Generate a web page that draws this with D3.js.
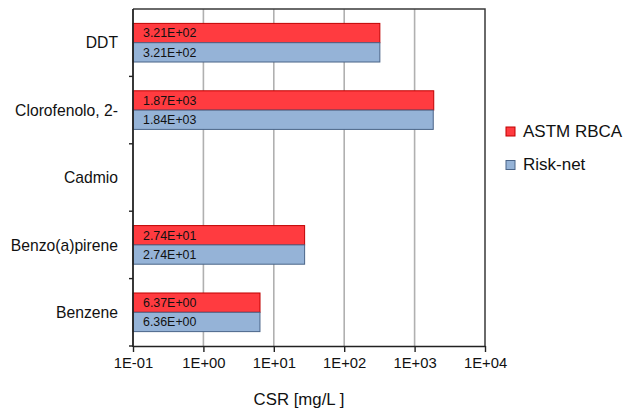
<!DOCTYPE html>
<html>
<head>
<meta charset="utf-8">
<script src="https://cdn.jsdelivr.net/npm/d3@7"></script>
<style>
  html, body { margin: 0; padding: 0; background: #fff; }
  svg { display: block; font-family: "Liberation Sans", Arial, sans-serif; }
</style>
</head>
<body>
<svg id="chart" width="628" height="411"></svg>
<script>
// Substances, listed top to bottom
const categories = ["DDT", "Clorofenolo, 2-", "Cadmio", "Benzo(a)pirene", "Benzene"];
// CSR values in mg/L (null = no value)
const astmValues = [321, 1870, null, 27.4, 6.37];
const risknetValues = [321, 1840, null, 27.4, 6.36];
const seriesNames = ["ASTM RBCA", "Risk-net"];
const tickValues = [0.1, 1, 10, 100, 1000, 10000];
const tickLabels = ["1E-01", "1E+00", "1E+01", "1E+02", "1E+03", "1E+04"];
const axisTitle = "CSR [mg/L ]";

const fills = ["#ff3b40", "#95b3d7"];
const strokes = ["#c00000", "#4a6488"];

const svg = d3.select("#chart");
const plotL = 133, plotR = 485, plotT = 9, plotB = 346;

const x = d3.scaleLog().domain([0.1, 10000]).range([plotL, plotR]);
const y = d3.scaleBand().domain(categories).range([plotT, plotB]).paddingInner(0).paddingOuter(0);
const groupH = y.bandwidth() * 0.573;
const sub = d3.scaleBand().domain(seriesNames).range([0, groupH]);

function fmtExp(v) {
  const [m, e] = v.toExponential(2).split("e");
  const n = Math.abs(+e);
  return m + "E" + (+e < 0 ? "-" : "+") + (n < 10 ? "0" : "") + n;
}

// vertical grid lines
svg.append("g").selectAll("line")
  .data(tickValues.slice(1, -1))
  .join("line")
  .attr("x1", d => x(d)).attr("x2", d => x(d))
  .attr("y1", plotT).attr("y2", plotB)
  .attr("stroke", "#b0b0b0").attr("stroke-width", 1.6);

// frame: top and right edges
svg.append("path")
  .attr("d", `M${plotL},${plotT}H${plotR}V${plotB}`)
  .attr("fill", "none").attr("stroke", "#3a3a3a").attr("stroke-width", 1.5);

// bars
const rows = categories.map((c, i) => ({ c, vals: [astmValues[i], risknetValues[i]] }));
const groups = svg.append("g").selectAll("g")
  .data(rows).join("g")
  .attr("transform", d => `translate(0,${y(d.c) + (y.bandwidth() - groupH) / 2})`);

groups.each(function (row) {
  const g = d3.select(this);
  row.vals.forEach((v, k) => {
    if (v == null) return;
    const s = seriesNames[k];
    g.append("rect")
      .attr("x", x(0.1))
      .attr("y", sub(s))
      .attr("width", x(v) - x(0.1))
      .attr("height", sub.bandwidth())
      .attr("fill", fills[k])
      .attr("stroke", strokes[k])
      .attr("stroke-width", 1);
    g.append("text")
      .attr("x", x(0.1) + 10)
      .attr("y", sub(s) + sub.bandwidth() / 2)
      .attr("dy", "0.36em")
      .attr("font-size", 12.4)
      .attr("fill", "#111")
      .text(fmtExp(v));
  });
});

// x axis
const xAxis = d3.axisBottom(x)
  .tickValues(tickValues)
  .tickFormat((d, i) => tickLabels[i])
  .tickSize(6)
  .tickSizeOuter(0);
const gx = svg.append("g").attr("transform", `translate(0,${plotB})`).call(xAxis);
gx.select(".domain").attr("stroke", "#222").attr("stroke-width", 1.6);
gx.selectAll(".tick line").attr("stroke", "#222").attr("stroke-width", 1.4);
gx.selectAll(".tick text")
  .attr("font-family", "Liberation Sans, Arial, sans-serif")
  .attr("font-size", 14.8).attr("fill", "#111").attr("y", 11).attr("dy", "0.71em");

// y axis: ticks at category boundaries
svg.append("line")
  .attr("x1", plotL).attr("x2", plotL).attr("y1", plotT).attr("y2", plotB + 1)
  .attr("stroke", "#222").attr("stroke-width", 1.8);
svg.append("g").selectAll("line")
  .data(categories)
  .join("line")
  .attr("x1", plotL - 4).attr("x2", plotL)
  .attr("y1", (d, i) => plotT + y.step() * (i + 1))
  .attr("y2", (d, i) => plotT + y.step() * (i + 1))
  .attr("stroke", "#222").attr("stroke-width", 1.4);
svg.append("g").selectAll("text")
  .data(categories).join("text")
  .attr("x", 118)
  .attr("y", d => y(d) + y.bandwidth() / 2)
  .attr("dy", "0.36em")
  .attr("text-anchor", "end")
  .attr("font-size", 15.7)
  .attr("fill", "#111")
  .text(d => d);

// axis title
svg.append("text")
  .attr("x", 299).attr("y", 404.5)
  .attr("text-anchor", "middle")
  .attr("font-size", 16.8)
  .attr("fill", "#111")
  .text(axisTitle);

// legend
const legend = svg.append("g").selectAll("g")
  .data(seriesNames).join("g")
  .attr("transform", (d, i) => `translate(506,${127 + i * 33.5})`);
legend.append("rect")
  .attr("width", 9).attr("height", 9)
  .attr("fill", (d, i) => fills[i])
  .attr("stroke", (d, i) => strokes[i]).attr("stroke-width", 1);
legend.append("text")
  .attr("x", 17).attr("y", 9.8)
  .attr("font-size", 17)
  .attr("fill", "#111")
  .text(d => d);
</script>
</body>
</html>
